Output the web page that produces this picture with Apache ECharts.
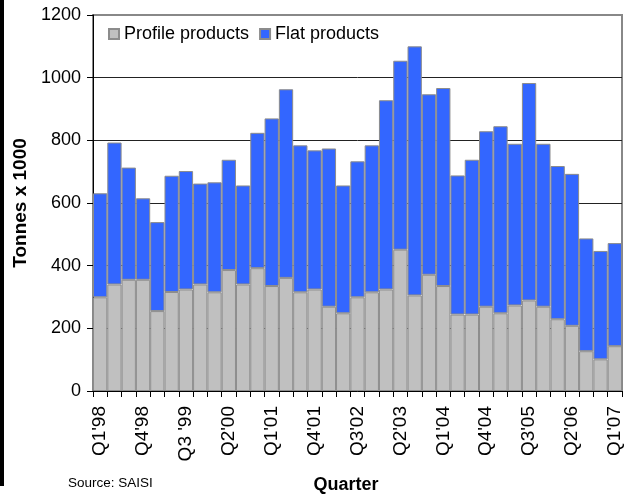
<!DOCTYPE html>
<html>
<head>
<meta charset="utf-8">
<script src="https://cdn.jsdelivr.net/npm/echarts@6/dist/echarts.min.js"></script>
<style>
html,body{margin:0;padding:0;background:#fff;}
#c{width:629px;height:496px;}
</style>
</head>
<body>
<div id="c"></div>
<script>
var quarters = ["Q1'98","Q2'98","Q3'98","Q4'98","Q1'99","Q2'99","Q3 '99","Q4'99",
  "Q1'00","Q2'00","Q3'00","Q4'00","Q1'01","Q2'01","Q3'01","Q4'01",
  "Q1'02","Q2'02","Q3'02","Q4'02","Q1'03","Q2'03","Q3'03","Q4'03",
  "Q1'04","Q2'04","Q3'04","Q4'04","Q1'05","Q2'05","Q3'05","Q4'05",
  "Q1'06","Q2'06","Q3'06","Q4'06","Q1'07"];
var profileProducts = [299,340,355,355,255,316,324,340,315,386,340,392,335,361,315,324,
  269,248,299,315,324,451,305,371,335,244,244,269,248,273,289,269,229,208,127,101,143];
var flatProducts = [332,453,358,260,284,371,378,322,351,352,316,432,535,602,469,444,
  505,408,434,469,604,603,795,576,632,444,494,560,597,516,694,520,489,485,360,346,329];
var yTicks = [0,200,400,600,800,1000,1200];

var FONT = "Liberation Sans, Arial, sans-serif";
var chart = echarts.init(document.getElementById('c'), null, {renderer:'canvas'});
chart.setOption({
  animation:false,
  backgroundColor:'#fff',
  textStyle:{fontFamily:FONT},
  grid:{left:93,right:7,top:15,bottom:105,show:true,borderColor:'#888',borderWidth:2,backgroundColor:'transparent'},
  legend:{
    left:108, top:25, padding:0, itemWidth:10, itemHeight:10, itemGap:10, icon:'rect',
    textStyle:{fontSize:18,color:'#000',fontFamily:FONT},
    data:['Profile products','Flat products']
  },
  xAxis:{
    type:'category', data:quarters, boundaryGap:true,
    axisLine:{show:true,lineStyle:{color:'#000',width:1}},
    axisTick:{show:true,interval:0,length:6,lineStyle:{color:'#000'}},
    axisLabel:{interval:2,rotate:90,margin:15,fontSize:19,color:'#000',fontFamily:FONT},
    splitLine:{show:false}
  },
  yAxis:{
    type:'value', min:yTicks[0], max:yTicks[yTicks.length-1], interval:200,
    axisLine:{show:true,lineStyle:{color:'#000',width:1}},
    axisTick:{show:true,length:6,lineStyle:{color:'#000'}},
    axisLabel:{margin:12,fontSize:18,color:'#000',fontFamily:FONT,formatter:function(v){return String(v);}},
    splitLine:{show:true,showMinLine:false,showMaxLine:false,lineStyle:{color:'#222',width:1}}
  },
  series:[
    {name:'Profile products',type:'bar',stack:'t',data:profileProducts,barCategoryGap:'0%',
     itemStyle:{color:'#C0C0C0',borderColor:'#8c8c8c',borderWidth:1}},
    {name:'Flat products',type:'bar',stack:'t',data:flatProducts,barCategoryGap:'0%',
     itemStyle:{color:'#3366FF',borderColor:'#8c8c8c',borderWidth:1}}
  ],
  graphic:[
    {type:'rect',shape:{x:0,y:0,width:4,height:486},style:{fill:'#000'},silent:true},
    {type:'text',x:21,y:203,rotation:Math.PI/2,style:{text:'Tonnes x 1000',fontSize:19,fontWeight:'bold',fontFamily:FONT,fill:'#000',align:'center',verticalAlign:'middle'}},
    {type:'text',x:346,y:485,style:{text:'Quarter',fontSize:18,fontWeight:'bold',fontFamily:FONT,fill:'#000',align:'center',verticalAlign:'middle'}},
    {type:'text',x:68,y:483,style:{text:'Source: SAISI',fontSize:13.5,fontFamily:FONT,fill:'#000',align:'left',verticalAlign:'middle'}}
  ]
});
</script>
</body>
</html>
